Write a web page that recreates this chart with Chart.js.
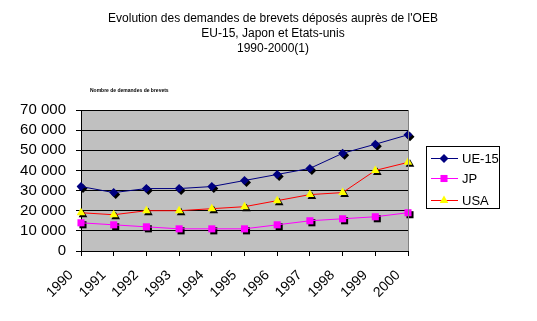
<!DOCTYPE html>
<html>
<head>
<meta charset="utf-8">
<script src="https://cdn.jsdelivr.net/npm/chart.js@4/dist/chart.umd.min.js"></script>
<style>
html,body{margin:0;padding:0;background:#fff;}
#wrap{position:relative;width:537px;height:321px;}
</style>
</head>
<body>
<div id="wrap"><canvas id="c" width="537" height="321"></canvas></div>
<script>
const titleLines = ["Evolution des demandes de brevets déposés auprès de l'OEB", "EU-15, Japon et Etats-unis", "1990-2000(1)"];
const axisTitle = "Nombre de demandes de brevets";
const years = ["1990","1991","1992","1993","1994","1995","1996","1997","1998","1999","2000"];
const yTicks = [0, 10000, 20000, 30000, 40000, 50000, 60000, 70000];
const ue15 = [32000, 29000, 31000, 31000, 32000, 35000, 38000, 41000, 48500, 53000, 57700];
const jp   = [14000, 13000, 12000, 11000, 11000, 11000, 13000, 15000, 16000, 17000, 19000];
const usa  = [19000, 18000, 20000, 20000, 21000, 22000, 25000, 28000, 29000, 40000, 44000];
const seriesNames = ["UE-15", "JP", "USA"];

const FONT = "Arial, 'Liberation Sans', sans-serif";

function shape(ctx, style, x, y, r) {
  ctx.beginPath();
  if (style === 'rectRot') {
    ctx.moveTo(x, y - r); ctx.lineTo(x + r, y); ctx.lineTo(x, y + r); ctx.lineTo(x - r, y);
  } else if (style === 'rect') {
    const s = r * Math.SQRT1_2;
    ctx.rect(x - s, y - s, 2 * s, 2 * s);
  } else if (style === 'triangle') {
    ctx.moveTo(x, y - r); ctx.lineTo(x + r * 0.866, y + r * 0.5); ctx.lineTo(x - r * 0.866, y + r * 0.5);
  }
  ctx.closePath();
}

const decor = {
  id: 'decor',
  beforeDraw(chart) {
    const {ctx, chartArea: a} = chart;
    ctx.save();
    ctx.fillStyle = '#C0C0C0';
    ctx.fillRect(a.left, a.top, a.right - a.left, a.bottom - a.top);
    ctx.restore();
  },
  beforeDatasetsDraw(chart) {
    const ctx = chart.ctx;
    ctx.save();
    ctx.fillStyle = '#000';
    chart.data.datasets.forEach((ds, i) => {
      const meta = chart.getDatasetMeta(i);
      meta.data.forEach(pt => {
        shape(ctx, ds.pointStyle, pt.x + 2, pt.y + 2, ds.pointRadius);
        ctx.fill();
      });
    });
    ctx.restore();
  },
  afterDraw(chart) {
    const {ctx, chartArea: a} = chart;
    ctx.save();
    ctx.strokeStyle = '#808080';
    ctx.lineWidth = 1;
    ctx.beginPath();
    ctx.moveTo(Math.round(a.right) + 0.5, a.top);
    ctx.lineTo(Math.round(a.right) + 0.5, a.bottom);
    ctx.stroke();
    ctx.fillStyle = '#000';
    ctx.textAlign = 'center';
    ctx.textBaseline = 'middle';
    ctx.font = '12px ' + FONT;
    titleLines.forEach((t, i) => ctx.fillText(t, 273, 19 + i * 15));
    ctx.textAlign = 'left';
    ctx.font = 'bold 5px ' + FONT;
    ctx.fillText(axisTitle, 90, 91);
    ctx.strokeStyle = '#000';
    ctx.lineWidth = 1;
    ctx.strokeRect(426.5, 146.5, 73, 62);
    const ys = [158, 178, 200];
    ctx.font = '13px ' + FONT;
    chart.data.datasets.forEach((ds, i) => {
      const y = ys[i];
      ctx.strokeStyle = ds.borderColor;
      ctx.lineWidth = 1;
      ctx.beginPath();
      ctx.moveTo(431, y + 0.5); ctx.lineTo(458, y + 0.5);
      ctx.stroke();
      ctx.fillStyle = ds.pointBackgroundColor;
      shape(ctx, ds.pointStyle, 444, y + 0.5, ds.pointRadius);
      ctx.fill();
      ctx.fillStyle = '#000';
      ctx.textBaseline = 'middle';
      ctx.fillText(ds.label, 462, y + 1);
    });
    ctx.restore();
  }
};

new Chart(document.getElementById('c'), {
  type: 'line',
  data: {
    labels: years,
    datasets: [
      { label: seriesNames[0], data: ue15, borderColor: '#000080', backgroundColor: '#000080',
        pointStyle: 'rectRot', pointRadius: 4.5, pointBackgroundColor: '#000080', pointBorderColor: '#000080', pointBorderWidth: 0, borderWidth: 1, tension: 0 },
      { label: seriesNames[1], data: jp, borderColor: '#FF00FF', backgroundColor: '#FF00FF',
        pointStyle: 'rect', pointRadius: 5, pointBackgroundColor: '#FF00FF', pointBorderColor: '#FF00FF', pointBorderWidth: 0, borderWidth: 1, tension: 0 },
      { label: seriesNames[2], data: usa, borderColor: '#FF0000', backgroundColor: '#FFFF00',
        pointStyle: 'triangle', pointRadius: 5, pointBackgroundColor: '#FFFF00', pointBorderColor: '#FFFF00', pointBorderWidth: 0, borderWidth: 1, tension: 0 }
    ]
  },
  options: {
    responsive: false,
    animation: false,
    events: [],
    layout: { padding: { top: 110, right: 129, left: 0, bottom: 0 } },
    plugins: { legend: { display: false }, title: { display: false }, tooltip: { enabled: false } },
    scales: {
      x: {
        offset: false,
        afterFit(s) { s.height = 70; },
        grid: { drawOnChartArea: false, color: '#000', tickLength: 5, lineWidth: 1 },
        border: { color: '#000', width: 1 },
        ticks: { color: '#000', font: { size: 14, family: FONT }, minRotation: 45, maxRotation: 45, padding: 11, labelOffset: -10, autoSkip: false }
      },
      y: {
        min: 0, max: 70000,
        afterFit(s) { s.width = 81; },
        afterBuildTicks(s) { s.ticks = yTicks.map(v => ({ value: v })); },
        grid: { color: '#000', tickLength: 5, lineWidth: 1 },
        border: { color: '#000', width: 1 },
        ticks: { color: '#000', font: { size: 15, family: FONT }, padding: 10, autoSkip: false,
          callback: v => String(v).replace(/\B(?=(\d{3})+(?!\d))/g, ' ') }
      }
    }
  },
  plugins: [decor]
});
</script>
</body>
</html>
